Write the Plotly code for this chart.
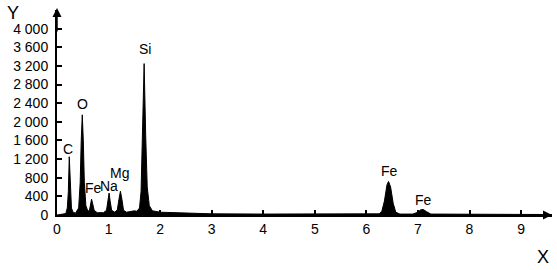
import plotly.graph_objects as go

# Spectrum: energy (keV) and counts
energy = [0.00, 0.10, 0.17, 0.20, 0.22, 0.238, 0.26, 0.28, 0.31, 0.36,
          0.42, 0.45, 0.47, 0.49, 0.51, 0.53, 0.56, 0.60,
          0.63, 0.65, 0.67, 0.69, 0.72, 0.78, 0.90,
          0.96, 0.99, 1.01, 1.03, 1.06, 1.12,
          1.17, 1.20, 1.23, 1.26, 1.29, 1.35, 1.45, 1.50, 1.55,
          1.60, 1.63, 1.66, 1.69, 1.72, 1.75, 1.79, 1.85,
          2.0, 2.3, 2.6, 3.0, 4.0, 5.0, 6.0,
          6.25, 6.30, 6.35, 6.40, 6.43, 6.47, 6.52, 6.57, 6.65, 6.9,
          7.00, 7.05, 7.10, 7.17, 7.25, 9.6]
counts = [0, 10, 30, 150, 500, 1250, 500, 150, 60, 40,
          150, 700, 1600, 2150, 1600, 700, 200, 80,
          100, 250, 340, 250, 100, 50, 50,
          100, 300, 470, 300, 100, 60,
          110, 330, 510, 330, 100, 60, 80, 90, 80,
          150, 500, 1700, 3250, 1700, 600, 200, 90,
          60, 50, 35, 25, 20, 15, 15,
          25, 80, 300, 650, 720, 600, 250, 60, 20, 20,
          60, 110, 120, 70, 20, 10]

# Peak labels
peak_names = ["C", "O", "Fe", "Na", "Mg", "Si", "Fe", "Fe"]
peak_x = [0.22, 0.49, 0.70, 1.01, 1.22, 1.71, 6.44, 7.10]
peak_y = [1250, 2150, 340, 470, 510, 3250, 720, 120]
label_shift = [8, 11, 11, 7, 18, 15, 10, 9]

x_ticks = [0, 1, 2, 3, 4, 5, 6, 7, 8, 9]
y_ticks = [0, 400, 800, 1200, 1600, 2000, 2400, 2800, 3200, 3600, 4000]
y_tick_text = ["0", "400", "800", "1 200", "1 600", "2 000", "2 400",
               "2 800", "3 200", "3 600", "4 000"]

FONT = "Liberation Sans, Arial, Helvetica, sans-serif"

fig = go.Figure()
fig.add_trace(go.Scatter(
    x=energy, y=counts, mode="lines", fill="tozeroy",
    line=dict(color="black", width=1), fillcolor="black",
    hoverinfo="skip", showlegend=False))

for name, px, py, sh in zip(peak_names, peak_x, peak_y, label_shift):
    fig.add_annotation(x=px, y=py, text=name, showarrow=False,
                       yshift=sh, yanchor="middle", xanchor="center",
                       font=dict(family=FONT, size=14, color="black"))

# axis arrows
fig.add_annotation(x=0, y=1.01, xref="paper", yref="paper", ax=0, ay=25,
                   text="", showarrow=True, arrowhead=2, arrowsize=1.2,
                   arrowwidth=1.5, arrowcolor="black")
fig.add_annotation(x=1.0, y=0, xref="paper", yref="paper", ax=-25, ay=0,
                   text="", showarrow=True, arrowhead=2, arrowsize=1.2,
                   arrowwidth=1.5, arrowcolor="black")

# axis titles
fig.add_annotation(xref="paper", yref="paper", x=(13 - 57) / 495,
                   y=(215 - 13) / 205, text="Y", showarrow=False,
                   xanchor="center", yanchor="middle",
                   font=dict(family=FONT, size=18, color="black"))
fig.add_annotation(xref="paper", yref="paper", x=(543 - 57) / 495,
                   y=-(257 - 215) / 205, text="X", showarrow=False,
                   xanchor="center", yanchor="middle",
                   font=dict(family=FONT, size=18, color="black"))

fig.update_layout(
    width=557, height=270,
    margin=dict(l=57, r=5, t=10, b=55),
    paper_bgcolor="white", plot_bgcolor="white",
    font=dict(family=FONT, size=14, color="black"),
    xaxis=dict(range=[0, 9.6], tickvals=x_ticks, ticks="inside", ticklen=5,
               tickwidth=1.5, tickcolor="black", showline=True, linewidth=2,
               linecolor="black", showgrid=False, zeroline=False,
               tickfont=dict(family=FONT, size=14)),
    yaxis=dict(range=[0, 4400], tickvals=y_ticks, ticktext=y_tick_text,
               ticks="inside", ticklen=5, tickwidth=1.5, tickcolor="black",
               showline=True, linewidth=2, linecolor="black", showgrid=False,
               zeroline=False, ticklabelstandoff=4,
               tickfont=dict(family=FONT, size=14)),
)

fig.write_html("out.html")
